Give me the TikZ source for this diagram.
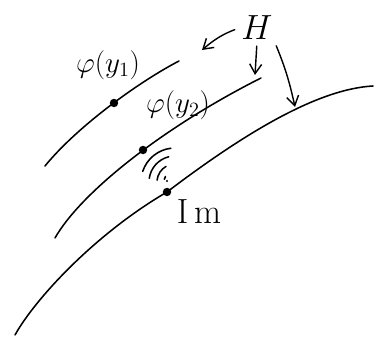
\documentclass[tikz,border=0pt]{standalone}
\usepackage{amsmath, amssymb}
\usetikzlibrary{arrows.meta, positioning}

\begin{document}
\begin{tikzpicture}[x=0.025cm, y=0.025cm, line width=1.1pt, line cap=round,
    hand/.style={font=\fontsize{21}{25}\selectfont, inner sep=1pt},
    arr/.style={-{Straight Barb[length=2.4mm, width=3mm]}, line width=1pt},
    pt/.style={circle, fill, inner sep=0pt, minimum size=6pt}]
    \useasboundingbox (0,0) rectangle (385,339);
    % Curves
    \draw (45,173) .. controls (75,210) and (135,255) .. (179,278);
    \draw (55,101) .. controls (80,145) and (160,210) .. (261,261);
    \draw (15,4) .. controls (35,40) and (95,105) .. (167,147)
      .. controls (250,210) and (320,250) .. (373,253);
    % Points
    \node[pt] (p1) at (114,236) {};
    \node[pt] (p2) at (143,189) {};
    \node[pt] (p3) at (167,147) {};
    % Ripples
    \coordinate (C) at (175,157);
    \foreach \r/\a/\b in {34/97/162, 26/104/172, 18/120/174, 11/150/166} {
      \draw ([shift={(\a:\r)}]C) arc[start angle=\a, end angle=\b, radius=\r];
    }
    \fill (167,158) circle[radius=1.2];
    % Labels
    \node[hand] (phi1) at (108,274) {$\varphi(y_1)$};
    \node[hand] (phi2) at (178,234) {$\varphi(y_2)$};
    \node[hand, font=\fontsize{25}{30}\selectfont] (Im) at (199,127) {$\mathrm{I\,m}$};
    \node[hand, font=\fontsize{26}{30}\selectfont] (H) at (257,311) {$H$};
    % Arrows from H
    \coordinate (t1) at (202,289);
    \coordinate (t2) at (255,264);
    \coordinate (t3) at (295,232);
    \draw[arr, shorten <=0.12cm] (H.west) to[bend right=10] (t1);
    \draw[arr, shorten <=0.1cm] (H.south) -- (t2);
    \draw[arr, shorten <=0.1cm] (H.south east) to[bend left=5] (t3);
\end{tikzpicture}
\end{document}
